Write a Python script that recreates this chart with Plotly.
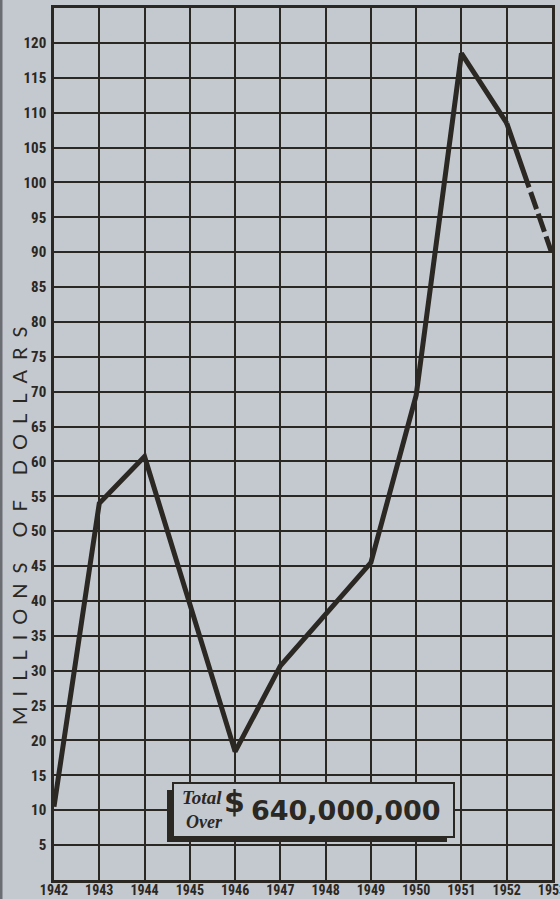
import plotly.graph_objects as go

# ---- data ----
years = [1942, 1943, 1944, 1946, 1947, 1949, 1950, 1951, 1952]
millions = [10.5, 54.0, 60.7, 18.4, 30.7, 45.5, 69.5, 118.5, 108.5]
proj_years = [1952, 1953]
proj_millions = [108.5, 89.8]

x_ticks = list(range(1942, 1954))
x_labels = [str(y) for y in x_ticks]
y_ticks = list(range(5, 121, 5))
y_labels = [str(v) for v in y_ticks]

BG = "#c4c9cf"
INK = "#2b2723"
TICKFONT = dict(family="Liberation Sans Narrow, Roboto Condensed, DejaVu Sans Condensed, sans-serif",
                size=15, color=INK, weight="bold")
XTICKFONT = dict(TICKFONT, size=14)

fig = go.Figure()
fig.add_trace(go.Scatter(x=years, y=millions, mode="lines",
                         line=dict(color=INK, width=5), hoverinfo="skip"))
fig.add_trace(go.Scatter(x=proj_years, y=proj_millions, mode="lines",
                         line=dict(color=INK, width=5,
                                   dash="68px,5px,18px,5px,19px,5px,16px,4px,10px,300px"),
                         hoverinfo="skip"))

W, H = 560, 899
L, R, T, B = 54, 8, 8, 19
pw, ph = W - L - R, H - T - B


def px(x):
    return (x - L) / pw


def py(y):
    return (H - B - y) / ph


shapes = [
    # shadow of the total box
    dict(type="rect", xref="paper", yref="paper", x0=px(167), x1=px(447), y0=py(842), y1=py(790),
         fillcolor=INK, line=dict(width=0), layer="above"),
    # total box
    dict(type="rect", xref="paper", yref="paper", x0=px(173), x1=px(454), y0=py(837), y1=py(783),
         fillcolor=BG, line=dict(color=INK, width=2), layer="above"),
    # scan edge on the left
    dict(type="line", xref="paper", yref="paper", x0=px(1), x1=px(1), y0=-1, y1=2,
         line=dict(color="#6a6d72", width=3), layer="above"),
]

EN = "\u2002"
title = (EN.join("MILLIONS") + "\u2003" + EN + EN.join("OF") + "\u2003" + EN + EN.join("DOLLARS"))

annotations = [
    dict(text="Total", xref="paper", yref="paper", x=px(202), y=py(797), showarrow=False,
         font=dict(family="Liberation Serif, DejaVu Serif, serif", size=19, color=INK, style="italic",
                   weight="bold"), xanchor="center", yanchor="middle"),
    dict(text="Over", xref="paper", yref="paper", x=px(204), y=py(822), showarrow=False,
         font=dict(family="Liberation Serif, DejaVu Serif, serif", size=18, color=INK, style="italic",
                   weight="bold"), xanchor="center", yanchor="middle"),
    dict(text="$", xref="paper", yref="paper", x=px(234), y=py(801), showarrow=False,
         font=dict(family="DejaVu Sans, sans-serif", size=30, color=INK, weight="bold"),
         xanchor="center", yanchor="middle"),
    dict(text="640,000,000", xref="paper", yref="paper", x=px(346), y=py(810), showarrow=False,
         font=dict(family="DejaVu Sans, sans-serif", size=27, color=INK, weight="bold"),
         xanchor="center", yanchor="middle"),
    dict(text=title,
         xref="paper", yref="paper", x=px(19), y=py(526), showarrow=False, textangle=-90,
         font=dict(family="Lato, Open Sans, sans-serif", size=20, color=INK),
         xanchor="center", yanchor="middle"),
]

fig.update_layout(
    width=W, height=H,
    margin=dict(l=L, r=R, t=T, b=B, pad=0, autoexpand=False),
    paper_bgcolor=BG, plot_bgcolor=BG,
    showlegend=False,
    shapes=shapes,
    annotations=annotations,
    xaxis=dict(range=[1942, 1953], tickvals=x_ticks, ticktext=x_labels, tickfont=XTICKFONT,
               showgrid=True, gridcolor=INK, gridwidth=2, zeroline=False,
               showline=True, linecolor=INK, linewidth=2.5, mirror=True, automargin=False,
               ticks="", ticklen=0, ticklabelstandoff=-5, ticklabeloverflow="allow",
               fixedrange=True),
    yaxis=dict(range=[0, 125], tickvals=y_ticks, ticktext=y_labels, tickfont=TICKFONT,
               showgrid=True, gridcolor=INK, gridwidth=2, zeroline=False,
               showline=True, linecolor=INK, linewidth=2.5, mirror=True, automargin=False,
               ticks="", ticklen=0, ticklabelstandoff=2, fixedrange=True),
)

fig.write_html(
    "out.html",
    config={"displayModeBar": False},
    post_script="document.body.style.margin='0';document.body.style.overflow='hidden';"
                "document.body.style.background='" + BG + "';",
)
